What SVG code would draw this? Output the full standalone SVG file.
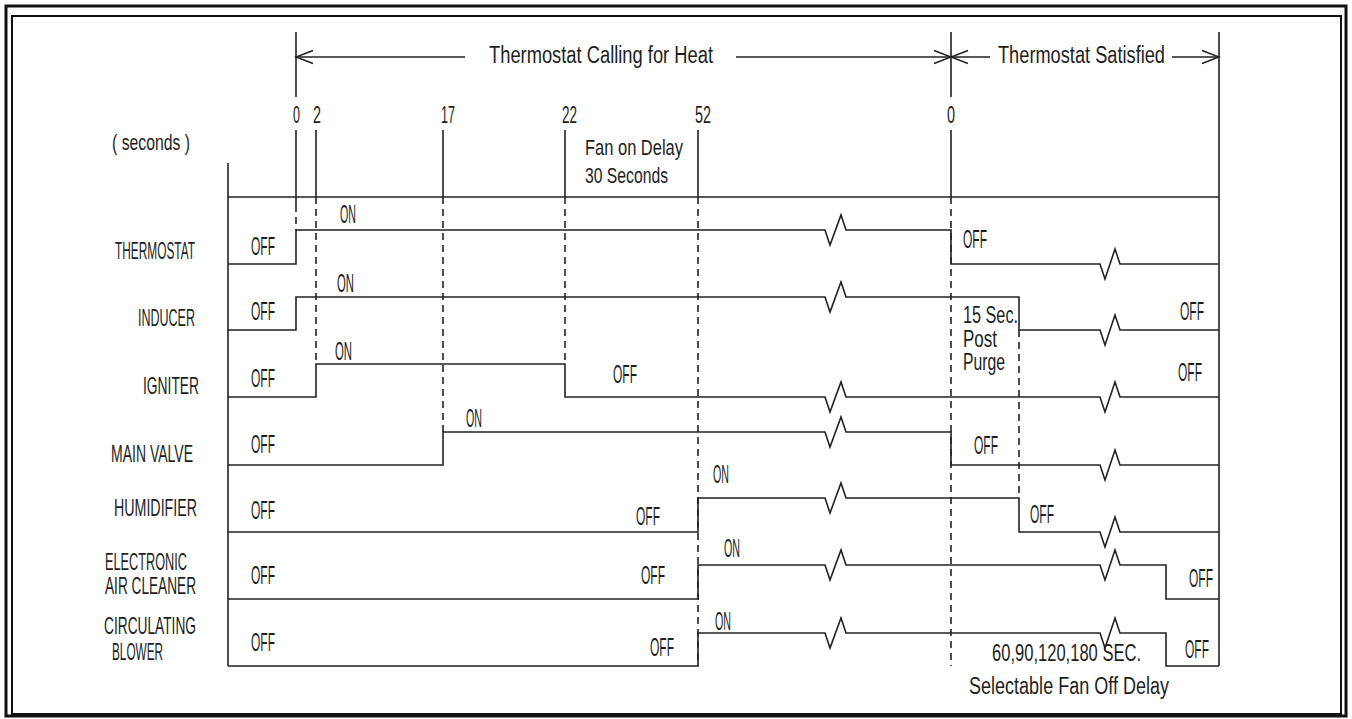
<svg xmlns="http://www.w3.org/2000/svg" width="1352" height="719" viewBox="0 0 1352 719">
<style>
.ln{fill:none;stroke:#222;stroke-width:1.6}
.ds{fill:none;stroke:#222;stroke-width:1.6;stroke-dasharray:7 5}
.t{font-family:"Liberation Sans",Arial,sans-serif;font-size:23px;fill:#1e1e1e}
.s{font-size:22px}
.o{font-size:25px}
.l{font-size:24px}
</style>
<defs>
<marker id="arr" viewBox="-19 -8 21 16" refX="0" refY="0" markerWidth="21" markerHeight="16" markerUnits="userSpaceOnUse" orient="auto">
<path d="M-17,-6.5 L0,0 L-17,6.5" fill="none" stroke="#222" stroke-width="1.6"/>
</marker>
</defs>
<rect width="1352" height="719" fill="#fff"/>
<g id="frame">
<rect x="6" y="6" width="1340" height="710" fill="none" stroke="#111" stroke-width="3"/>
<rect x="12" y="16" width="1329" height="698" fill="none" stroke="#111" stroke-width="2"/>
</g>
<g id="grid">
<path class="ln" d="M228,163 V666 M228,197 H1219 M1219,32 V666 M296,32 V97 M951,32 V97 M296,130 V205 M316,130 V197 M443,130 V197 M565,130 V197 M698,130 V197 M951,130 V197"/>
<path class="ds" d="M296,205 V230 M316,197 V364 M443,197 V432 M565,197 V364 M698,197 V666 M951,197 V666 M1019,330 V498"/>
</g>
<g id="connectors">
<line class="ln" x1="465" y1="57" x2="296" y2="57" marker-end="url(#arr)"/>
<line class="ln" x1="736" y1="57" x2="951" y2="57" marker-end="url(#arr)"/>
<line class="ln" x1="990" y1="57" x2="951" y2="57" marker-end="url(#arr)"/>
<line class="ln" x1="1172" y1="57" x2="1219" y2="57" marker-end="url(#arr)"/>
</g>
<g id="header">
<text class="t" x="489" y="63" textLength="224" lengthAdjust="spacingAndGlyphs">Thermostat Calling for Heat</text>
<text class="t" x="998" y="63" textLength="167" lengthAdjust="spacingAndGlyphs">Thermostat Satisfied</text>
<text class="t s" x="112" y="150" textLength="78" lengthAdjust="spacingAndGlyphs">( seconds )</text>
<text class="t" x="293" y="123" textLength="7" lengthAdjust="spacingAndGlyphs">0</text>
<text class="t" x="313" y="123" textLength="8" lengthAdjust="spacingAndGlyphs">2</text>
<text class="t" x="441" y="123" textLength="14" lengthAdjust="spacingAndGlyphs">17</text>
<text class="t" x="562" y="123" textLength="15" lengthAdjust="spacingAndGlyphs">22</text>
<text class="t" x="695" y="123" textLength="16" lengthAdjust="spacingAndGlyphs">52</text>
<text class="t" x="947" y="123" textLength="8" lengthAdjust="spacingAndGlyphs">0</text>
<text class="t s" x="585" y="155" textLength="98" lengthAdjust="spacingAndGlyphs">Fan on Delay</text>
<text class="t s" x="585" y="183" textLength="83" lengthAdjust="spacingAndGlyphs">30 Seconds</text>
</g>
<g id="thermostat">
<path class="ln" d="M228,264 H296 V230 H825 L830,245 L841,215 L846,230 H951 V264 H1100 L1105,279 L1115,249 L1120,264 H1219"/>
<text class="t l" x="115" y="259" textLength="80" lengthAdjust="spacingAndGlyphs">THERMOSTAT</text>
<text class="t o" x="251" y="255" textLength="24" lengthAdjust="spacingAndGlyphs">OFF</text>
<text class="t o" x="340" y="223" textLength="16" lengthAdjust="spacingAndGlyphs">ON</text>
<text class="t o" x="963" y="248" textLength="24" lengthAdjust="spacingAndGlyphs">OFF</text>
</g>
<g id="inducer">
<path class="ln" d="M228,330 H296 V297 H825 L830,312 L841,282 L846,297 H1019 V330 H1100 L1105,345 L1115,315 L1120,330 H1219"/>
<text class="t l" x="138" y="326" textLength="57" lengthAdjust="spacingAndGlyphs">INDUCER</text>
<text class="t o" x="251" y="320" textLength="24" lengthAdjust="spacingAndGlyphs">OFF</text>
<text class="t o" x="337" y="292" textLength="17" lengthAdjust="spacingAndGlyphs">ON</text>
<text class="t o" x="1180" y="320" textLength="24" lengthAdjust="spacingAndGlyphs">OFF</text>
<text class="t" x="963" y="323" textLength="55" lengthAdjust="spacingAndGlyphs">15 Sec.</text>
<text class="t" x="963" y="347" textLength="34" lengthAdjust="spacingAndGlyphs">Post</text>
<text class="t" x="963" y="370" textLength="42" lengthAdjust="spacingAndGlyphs">Purge</text>
</g>
<g id="igniter">
<path class="ln" d="M228,397 H316 V364 H565 V397 H825 L830,412 L841,382 L846,397 H1100 L1105,412 L1115,382 L1120,397 H1219"/>
<text class="t l" x="143" y="394" textLength="56" lengthAdjust="spacingAndGlyphs">IGNITER</text>
<text class="t o" x="251" y="387" textLength="24" lengthAdjust="spacingAndGlyphs">OFF</text>
<text class="t o" x="335" y="360" textLength="17" lengthAdjust="spacingAndGlyphs">ON</text>
<text class="t o" x="613" y="383" textLength="24" lengthAdjust="spacingAndGlyphs">OFF</text>
<text class="t o" x="1178" y="381" textLength="24" lengthAdjust="spacingAndGlyphs">OFF</text>
</g>
<g id="main-valve">
<path class="ln" d="M228,465 H443 V432 H825 L830,447 L841,417 L846,432 H951 V465 H1100 L1105,480 L1115,450 L1120,465 H1219"/>
<text class="t l" x="111" y="462" textLength="82" lengthAdjust="spacingAndGlyphs">MAIN VALVE</text>
<text class="t o" x="251" y="453" textLength="24" lengthAdjust="spacingAndGlyphs">OFF</text>
<text class="t o" x="466" y="427" textLength="16" lengthAdjust="spacingAndGlyphs">ON</text>
<text class="t o" x="974" y="454" textLength="24" lengthAdjust="spacingAndGlyphs">OFF</text>
</g>
<g id="humidifier">
<path class="ln" d="M228,532 H698 V498 H825 L830,513 L841,483 L846,498 H1019 V532 H1100 L1105,547 L1115,517 L1120,532 H1219"/>
<text class="t l" x="114" y="516" textLength="83" lengthAdjust="spacingAndGlyphs">HUMIDIFIER</text>
<text class="t o" x="251" y="519" textLength="24" lengthAdjust="spacingAndGlyphs">OFF</text>
<text class="t o" x="636" y="525" textLength="24" lengthAdjust="spacingAndGlyphs">OFF</text>
<text class="t o" x="713" y="483" textLength="16" lengthAdjust="spacingAndGlyphs">ON</text>
<text class="t o" x="1030" y="523" textLength="24" lengthAdjust="spacingAndGlyphs">OFF</text>
</g>
<g id="air-cleaner">
<path class="ln" d="M228,599 H698 V565 H825 L830,580 L841,550 L846,565 H1100 L1105,580 L1115,550 L1120,565 H1166 V599 H1219"/>
<text class="t l" x="105" y="570" textLength="82" lengthAdjust="spacingAndGlyphs">ELECTRONIC</text>
<text class="t l" x="105" y="594" textLength="91" lengthAdjust="spacingAndGlyphs">AIR CLEANER</text>
<text class="t o" x="251" y="584" textLength="24" lengthAdjust="spacingAndGlyphs">OFF</text>
<text class="t o" x="641" y="584" textLength="24" lengthAdjust="spacingAndGlyphs">OFF</text>
<text class="t o" x="724" y="557" textLength="16" lengthAdjust="spacingAndGlyphs">ON</text>
<text class="t o" x="1189" y="587" textLength="24" lengthAdjust="spacingAndGlyphs">OFF</text>
</g>
<g id="blower">
<path class="ln" d="M228,666 H698 V633 H825 L830,648 L841,618 L846,633 H1100 L1105,648 L1115,618 L1120,633 H1166 V666 H1219"/>
<text class="t l" x="104" y="634" textLength="92" lengthAdjust="spacingAndGlyphs">CIRCULATING</text>
<text class="t l" x="112" y="660" textLength="51" lengthAdjust="spacingAndGlyphs">BLOWER</text>
<text class="t o" x="251" y="651" textLength="24" lengthAdjust="spacingAndGlyphs">OFF</text>
<text class="t o" x="650" y="656" textLength="24" lengthAdjust="spacingAndGlyphs">OFF</text>
<text class="t o" x="715" y="630" textLength="16" lengthAdjust="spacingAndGlyphs">ON</text>
<text class="t o" x="1185" y="658" textLength="24" lengthAdjust="spacingAndGlyphs">OFF</text>
<text class="t" x="992" y="661" textLength="149" lengthAdjust="spacingAndGlyphs">60,90,120,180 SEC.</text>
<text class="t" x="969" y="694" textLength="200" lengthAdjust="spacingAndGlyphs">Selectable Fan Off Delay</text>
</g>
</svg>
